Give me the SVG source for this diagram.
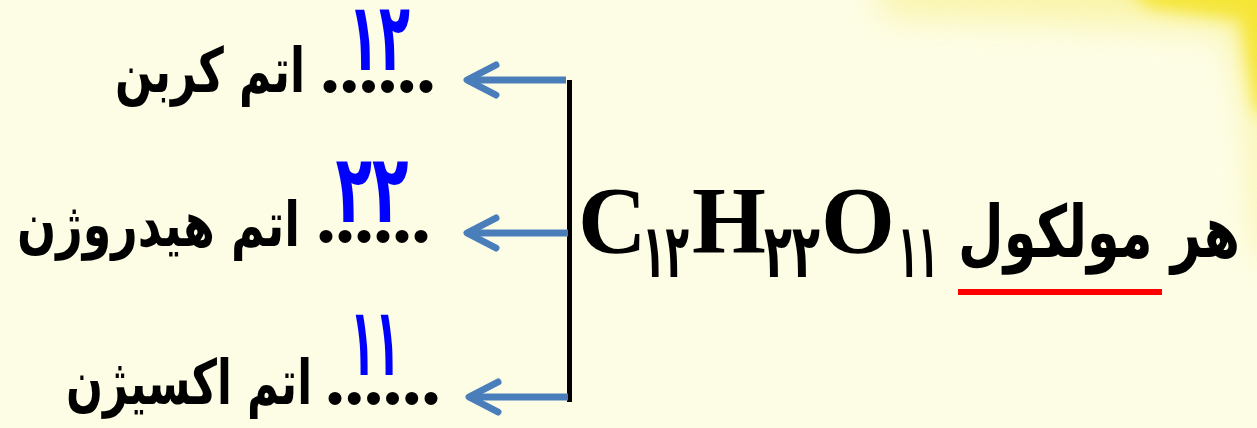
<svg xmlns="http://www.w3.org/2000/svg" width="1257" height="428" viewBox="0 0 1257 428">
  <defs>
    <filter id="soft" x="-50%" y="-50%" width="200%" height="200%">
      <feGaussianBlur stdDeviation="18"/>
    </filter>
    <filter id="soft2" x="-50%" y="-50%" width="200%" height="200%">
      <feGaussianBlur stdDeviation="8"/>
    </filter>
    <style>
      .fa { font-family: "DejaVu Sans", sans-serif; font-weight: bold; fill: #000; }
      .num { font-family: "DejaVu Sans", sans-serif; font-weight: bold; fill: #0000ff; text-anchor: middle; }
      .dots { font-family: "Liberation Serif", serif; font-weight: bold; fill: #000; }
      .lat { font-family: "Liberation Serif", serif; font-weight: bold; fill: #000; }
      .sub { font-family: "DejaVu Sans", sans-serif; font-weight: bold; fill: #000; }
      .arrow { stroke: #4a7ebb; stroke-width: 7; fill: none; stroke-linecap: round; stroke-linejoin: round; }
    </style>
  </defs>
  <rect x="0" y="0" width="1257" height="428" fill="#fdfde6"/>
  <g id="corner-tint">
    <polygon points="880,-30 1290,-30 1290,260 1262,260 1250,120 1230,30 1100,22 880,14" fill="#f7ec6e" opacity="0.55" filter="url(#soft)"/>
    <polygon points="1120,-20 1290,-20 1290,120 1255,110 1240,20 1150,8" fill="#f4e21a" opacity="0.8" filter="url(#soft2)"/>
  </g>

  <g id="connectors">
    <line x1="569.5" y1="80" x2="569.5" y2="402" stroke="#000" stroke-width="5"/>
    <line class="arrow" x1="566" y1="80" x2="467" y2="80" style="stroke-linecap:butt"/>
    <polyline class="arrow" points="496,65 467,80 496,95"/>
    <line class="arrow" x1="568" y1="233" x2="467" y2="233" style="stroke-linecap:butt"/>
    <polyline class="arrow" points="496,218 467,233 496,248"/>
    <line class="arrow" x1="568" y1="397" x2="469" y2="397" style="stroke-linecap:butt"/>
    <polyline class="arrow" points="498,382 469,397 498,412"/>
  </g>

  <g id="node-carbon">
    <text class="num" x="379" y="70" font-size="95" textLength="62" lengthAdjust="spacingAndGlyphs">۱۲</text>
    <text class="dots" x="320" y="92" font-size="80" textLength="116" lengthAdjust="spacing">......</text>
    <text class="fa" x="115" y="92" font-size="62" textLength="190" lengthAdjust="spacingAndGlyphs">اتم کربن</text>
  </g>

  <g id="node-hydrogen">
    <text class="num" x="372" y="222" font-size="95" textLength="73" lengthAdjust="spacingAndGlyphs">۲۲</text>
    <text class="dots" x="316" y="242" font-size="80" textLength="115" lengthAdjust="spacing">......</text>
    <text class="fa" x="17" y="246" font-size="62" textLength="283" lengthAdjust="spacingAndGlyphs">اتم هیدروژن</text>
  </g>

  <g id="node-oxygen">
    <text class="num" x="375" y="375" font-size="95" textLength="50" lengthAdjust="spacingAndGlyphs">۱۱</text>
    <text class="dots" x="325" y="404" font-size="80" textLength="116" lengthAdjust="spacing">......</text>
    <text class="fa" x="66" y="404" font-size="62" textLength="246" lengthAdjust="spacingAndGlyphs">اتم اکسیژن</text>
  </g>

  <g id="node-molecule">
    <text class="lat" x="578" y="253" font-size="95">C</text>
    <text class="sub" x="642" y="277" font-size="75" textLength="47" lengthAdjust="spacingAndGlyphs">۱۲</text>
    <text class="lat" x="692" y="253" font-size="95">H</text>
    <text class="sub" x="764" y="277" font-size="75" textLength="56" lengthAdjust="spacingAndGlyphs">۲۲</text>
    <text class="lat" x="821" y="253" font-size="95">O</text>
    <text class="sub" x="898" y="277" font-size="75" textLength="40" lengthAdjust="spacingAndGlyphs">۱۱</text>
    <text class="fa" x="958" y="257" font-size="72" textLength="282" lengthAdjust="spacingAndGlyphs">هر مولکول</text>
    <rect x="958" y="289" width="204" height="6" fill="#ff0000"/>
  </g>
</svg>
